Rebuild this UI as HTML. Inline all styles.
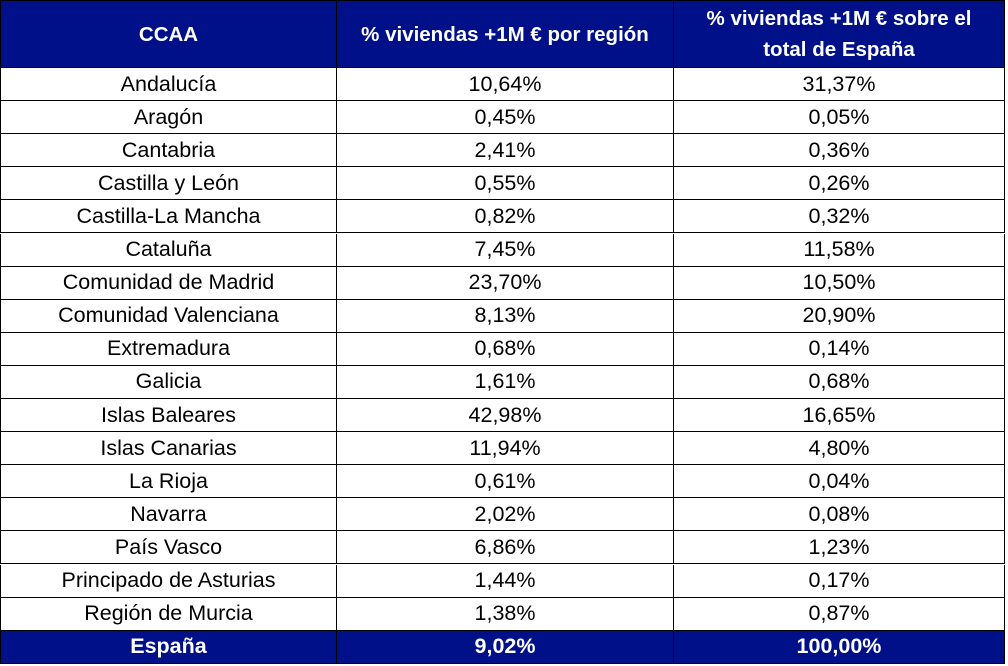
<!DOCTYPE html>
<html><head><meta charset="utf-8"><style>
html,body{margin:0;padding:0;background:#fff;width:1008px;height:666px;overflow:hidden;position:relative}
.r{position:absolute;left:0;width:1005px;display:flex;font-family:"Liberation Sans",sans-serif;font-size:21.5px;color:#000;box-sizing:border-box;border-bottom:1.5px solid #000}
.r div{display:flex;align-items:center;justify-content:center;text-align:center;box-sizing:border-box;border-left:1.5px solid #000;height:100%}
.r div:nth-child(1){width:336px}
.r div:nth-child(2){width:337px}
.r div:nth-child(3){width:332px;border-right:1.5px solid #000}
.h{background:#001088;color:#fff;font-weight:bold;font-size:20.5px;line-height:31px;border-top:1.5px solid #000}
.t{background:#001088;color:#fff;font-weight:bold}
</style></head><body>
<div class="r h" style="top:0;height:68px"><div>CCAA</div><div>% viviendas +1M € por región</div><div>% viviendas +1M € sobre el<br>total de España</div></div>
<div class="r" style="top:68px;height:33.1px"><div>Andalucía</div><div>10,64%</div><div>31,37%</div></div>
<div class="r" style="top:101.1px;height:33.1px"><div>Aragón</div><div>0,45%</div><div>0,05%</div></div>
<div class="r" style="top:134.2px;height:33.1px"><div>Cantabria</div><div>2,41%</div><div>0,36%</div></div>
<div class="r" style="top:167.3px;height:33.1px"><div>Castilla y León</div><div>0,55%</div><div>0,26%</div></div>
<div class="r" style="top:200.4px;height:33.1px"><div>Castilla-La Mancha</div><div>0,82%</div><div>0,32%</div></div>
<div class="r" style="top:233.5px;height:33.1px"><div>Cataluña</div><div>7,45%</div><div>11,58%</div></div>
<div class="r" style="top:266.6px;height:33.1px"><div>Comunidad de Madrid</div><div>23,70%</div><div>10,50%</div></div>
<div class="r" style="top:299.7px;height:33.1px"><div>Comunidad Valenciana</div><div>8,13%</div><div>20,90%</div></div>
<div class="r" style="top:332.8px;height:33.1px"><div>Extremadura</div><div>0,68%</div><div>0,14%</div></div>
<div class="r" style="top:365.9px;height:33.1px"><div>Galicia</div><div>1,61%</div><div>0,68%</div></div>
<div class="r" style="top:399px;height:33.1px"><div>Islas Baleares</div><div>42,98%</div><div>16,65%</div></div>
<div class="r" style="top:432.1px;height:33.1px"><div>Islas Canarias</div><div>11,94%</div><div>4,80%</div></div>
<div class="r" style="top:465.2px;height:33.1px"><div>La Rioja</div><div>0,61%</div><div>0,04%</div></div>
<div class="r" style="top:498.3px;height:33.1px"><div>Navarra</div><div>2,02%</div><div>0,08%</div></div>
<div class="r" style="top:531.4px;height:33.1px"><div>País Vasco</div><div>6,86%</div><div>1,23%</div></div>
<div class="r" style="top:564.5px;height:33.1px"><div>Principado de Asturias</div><div>1,44%</div><div>0,17%</div></div>
<div class="r" style="top:597.6px;height:33.1px"><div>Región de Murcia</div><div>1,38%</div><div>0,87%</div></div>
<div class="r t" style="top:630.7px;height:33.3px"><div>España</div><div>9,02%</div><div>100,00%</div></div>
</body></html>
